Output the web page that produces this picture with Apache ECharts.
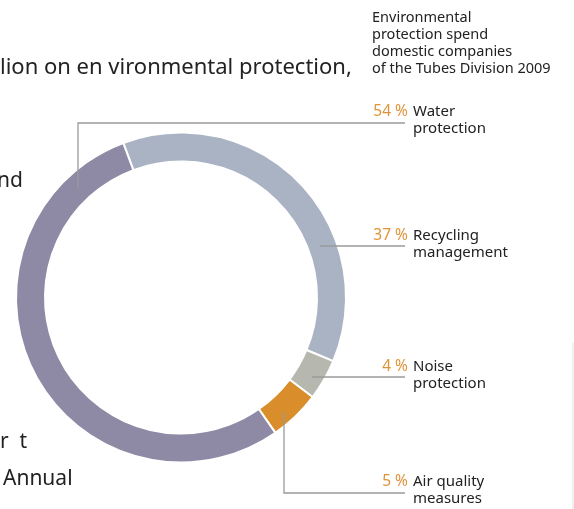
<!DOCTYPE html>
<html>
<head>
<meta charset="utf-8">
<script src="https://cdn.jsdelivr.net/npm/echarts@6/dist/echarts.min.js"></script>
<style>
html,body{margin:0;padding:0;background:#fff;}
#c{width:574px;height:509px;}
</style>
</head>
<body>
<div id="c"></div>
<script>
// Data
const categories = ['Recycling\nmanagement', 'Noise\nprotection', 'Air quality\nmeasures', 'Water\nprotection'];
const shares = [37, 4, 5, 54];
const colors = ['#a9b3c3', '#b6b7af', '#d98d2b', '#8e8aa6'];
const titleLines = ['Environmental', 'protection spend', 'domestic companies', 'of the Tubes Division 2009'];
const bodyFragments = [
  {text: 'lion on en vironmental protection,', x: 0, y: 68, size: 22},
  {text: 'nd', x: -3, y: 181, size: 21},
  {text: 'r  t', x: 0, y: 442, size: 21},
  {text: 'Annual', x: 3, y: 479, size: 21}
];

// label layout (text anchor y for first line) and leader-line paths, per category
const labelY = [236, 367, 482, 112];
const leaders = [
  [[320, 246], [405, 246]],
  [[312, 377], [405, 377]],
  [[284, 412], [284, 493], [405, 493]],
  [[78, 189], [78, 123], [405, 123]]
];

const FONT = '"Noto Sans", "Open Sans", sans-serif';
const graphics = [];

titleLines.forEach((t, i) => {
  graphics.push({type: 'text', x: 372, y: 18 + i * 17,
    style: {text: t, font: '14.5px ' + FONT, fill: '#222', textVerticalAlign: 'middle'}});
});
bodyFragments.forEach(f => {
  graphics.push({type: 'text', x: f.x, y: f.y, style: {text: f.text, font: f.size + 'px ' + FONT, fill: '#222', textVerticalAlign: 'middle'}});
});
leaders.forEach(pts => {
  graphics.push({type: 'polyline', shape: {points: pts}, style: {stroke: '#9a9a9a', lineWidth: 1.3, fill: null}, z: 10});
});
categories.forEach((c, i) => {
  graphics.push({type: 'text', x: 408, y: labelY[i],
    style: {text: shares[i] + ' %', font: '15.5px ' + FONT, fill: '#e0943a', textAlign: 'right', textVerticalAlign: 'middle'}});
  graphics.push({type: 'text', x: 413, y: labelY[i] - 9,
    style: {text: c, font: '15px ' + FONT, fill: '#222', lineHeight: 17, textVerticalAlign: 'top'}});
});
graphics.push({type: 'line', shape: {x1: 573, y1: 343, x2: 573, y2: 509}, style: {stroke: '#e2e2e2', lineWidth: 1}});

const chart = echarts.init(document.getElementById('c'), null, {renderer: 'canvas'});
chart.setOption({
  animation: false,
  backgroundColor: '#fff',
  graphic: graphics,
  series: [{
    type: 'pie',
    center: [181, 297.5],
    radius: [136, 165],
    startAngle: 110.5,
    clockwise: true,
    label: {show: false},
    labelLine: {show: false},
    emphasis: {disabled: true},
    itemStyle: {borderColor: '#fff', borderWidth: 2},
    data: categories.map((c, i) => ({name: c, value: shares[i], itemStyle: {color: colors[i]}}))
  }]
});
</script>
</body>
</html>
